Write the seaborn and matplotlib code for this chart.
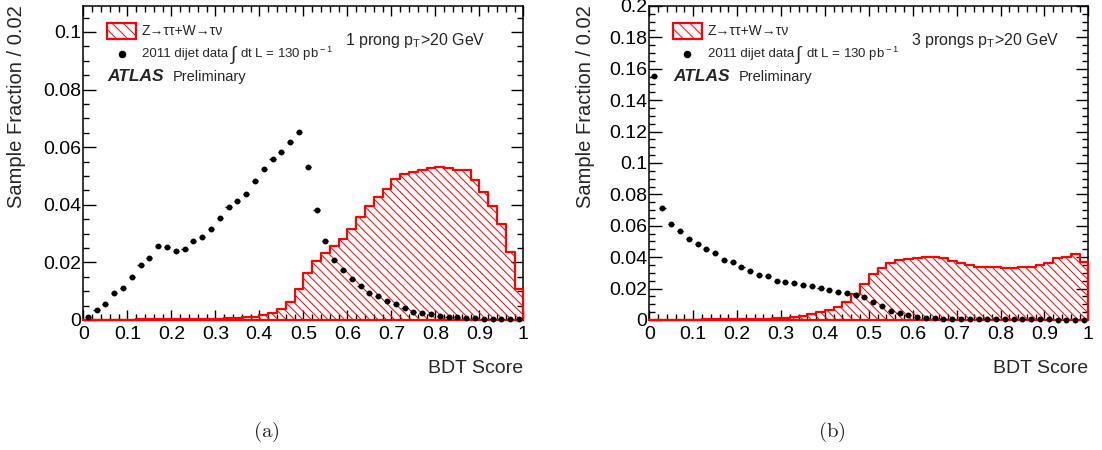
import numpy as np
import pandas as pd
import matplotlib
matplotlib.use("Agg")
import matplotlib.pyplot as plt
from matplotlib.ticker import MultipleLocator, FuncFormatter
from matplotlib.patches import Rectangle
import seaborn as sns

# ---------------- data ----------------
bin_edges = [round(0.02 * i, 2) for i in range(51)]
bin_centers = [round(0.02 * i + 0.01, 2) for i in range(50)]

# (a) 1 prong
sig_1p = [0.0001, 0.0001, 0.0001, 0.0001, 0.0001, 0.0001, 0.0002, 0.0002, 0.0002, 0.0002,
          0.0003, 0.0003, 0.0003, 0.0004, 0.0004, 0.0005, 0.0006, 0.0007, 0.0009, 0.0012,
          0.0017, 0.0023, 0.0037, 0.0064, 0.0106, 0.0162, 0.0205, 0.0231, 0.0257, 0.0280,
          0.0315, 0.0356, 0.0397, 0.0428, 0.0455, 0.0488, 0.0507, 0.0512, 0.0519, 0.0527,
          0.0532, 0.0527, 0.0521, 0.0519, 0.0486, 0.0446, 0.0396, 0.0333, 0.0237, 0.0106]
data_1p = [0.0012, 0.0035, 0.0054, 0.0093, 0.0110, 0.0148, 0.0190, 0.0214, 0.0257, 0.0253,
           0.0241, 0.0247, 0.0275, 0.0289, 0.0316, 0.0355, 0.0391, 0.0412, 0.0439, 0.0481,
           0.0523, 0.0558, 0.0583, 0.0619, 0.0652, 0.0530, 0.0383, 0.0275, 0.0208, 0.0174,
           0.0144, 0.0119, 0.0095, 0.0084, 0.0066, 0.0056, 0.0043, 0.0028, 0.0023, 0.0020,
           0.0014, 0.0012, 0.0009, 0.0008, 0.0006, 0.0005, 0.0003, 0.0003, 0.0002, 0.0002]

# (b) 3 prongs
sig_3p = [0.0002, 0.0002, 0.0002, 0.0003, 0.0003, 0.0003, 0.0004, 0.0004, 0.0005, 0.0005,
          0.0006, 0.0007, 0.0008, 0.0009, 0.0010, 0.0012, 0.0017, 0.0028, 0.0038, 0.0049,
          0.0064, 0.0085, 0.0117, 0.0166, 0.0227, 0.0293, 0.0333, 0.0361, 0.0382, 0.0391,
          0.0393, 0.0401, 0.0401, 0.0397, 0.0376, 0.0365, 0.0350, 0.0335, 0.0335, 0.0338,
          0.0333, 0.0329, 0.0335, 0.0340, 0.0350, 0.0365, 0.0393, 0.0399, 0.0420, 0.0367]
data_3p = [0.1554, 0.0711, 0.0609, 0.0567, 0.0518, 0.0486, 0.0452, 0.0427, 0.0384, 0.0367,
           0.0335, 0.0312, 0.0289, 0.0278, 0.0251, 0.0242, 0.0234, 0.0223, 0.0217, 0.0204,
           0.0193, 0.0180, 0.0172, 0.0161, 0.0144, 0.0113, 0.0089, 0.0059, 0.0042, 0.0030,
           0.0021, 0.0015, 0.0011, 0.0009, 0.0008, 0.0008, 0.0007, 0.0007, 0.0006, 0.0006,
           0.0005, 0.0005, 0.0005, 0.0004, 0.0004, 0.0004, 0.0003, 0.0003, 0.0003, 0.0003]

x_ticks = [0, 0.1, 0.2, 0.3, 0.4, 0.5, 0.6, 0.7, 0.8, 0.9, 1]
sig_label = "Z\u2192\u03c4\u03c4+W\u2192\u03c4\u03bd"
data_label_a = "2011 dijet data"
data_label_b = r"dt L = 130 pb$^{\rm -1}$"
panel_titles = [r"1 prong p$_{\rm T}$>20 GeV", r"3 prongs p$_{\rm T}$>20 GeV"]
captions = ["(a)", "(b)"]
y_tops = [0.109, 0.2]

# ---------------- style ----------------
sns.set_theme(style="ticks")
plt.rcParams["font.family"] = ["Liberation Sans", "DejaVu Sans"]
plt.rcParams["mathtext.fontset"] = "custom"
plt.rcParams["mathtext.rm"] = "Liberation Sans"
plt.rcParams["mathtext.it"] = "Liberation Sans:italic"
plt.rcParams["hatch.color"] = "red"
plt.rcParams["hatch.linewidth"] = 0.7

fig = plt.figure(figsize=(11.02, 4.5), dpi=100)
ax_pos = [[0.0756, 0.2889, 0.3993, 0.6978], [0.5892, 0.2889, 0.3984, 0.6978]]
ylab_x = [0.0154, 0.531]
cap_x = [0.242, 0.755]

panels = [(sig_1p, data_1p), (sig_3p, data_3p)]
for k, (sig, dat) in enumerate(panels):
    ax = fig.add_axes(ax_pos[k])
    df = pd.DataFrame({"score": bin_centers, "sig": sig, "data": dat})
    sns.histplot(data=df, x="score", weights="sig", bins=bin_edges, element="step",
                 fill=True, color="red", facecolor="none", edgecolor="red",
                 hatch="\\\\\\\\", linewidth=1.6, ax=ax, zorder=3, clip_on=False)
    ax.errorbar(df["score"], df["data"], xerr=0.007, fmt="none", ecolor="black",
                elinewidth=1.0, zorder=4)
    sns.scatterplot(data=df, x="score", y="data", color="black", s=18, linewidth=0,
                    ax=ax, zorder=5, clip_on=False)

    ax.set_xlim(0, 1)
    ax.set_ylim(0, y_tops[k])
    ax.set_xlabel("")
    ax.set_ylabel("")
    ax.set_xticks(x_ticks)
    ax.xaxis.set_minor_locator(MultipleLocator(0.02))
    ax.yaxis.set_major_locator(MultipleLocator(0.02))
    ax.yaxis.set_minor_locator(MultipleLocator(0.005))
    ax.xaxis.set_major_formatter(FuncFormatter(lambda v, p: "%g" % round(v, 3)))
    ax.yaxis.set_major_formatter(FuncFormatter(lambda v, p: "%g" % round(v, 4)))
    ax.tick_params(axis="both", which="both", direction="in", top=True, right=True,
                   labelsize=14, colors="black", width=1.0)
    ax.tick_params(axis="x", which="major", length=7.5, pad=4)
    ax.tick_params(axis="x", which="minor", length=4)
    ax.tick_params(axis="y", which="major", length=9, pad=1.5)
    ax.tick_params(axis="y", which="minor", length=4.5)
    for s in ax.spines.values():
        s.set_linewidth(1.1)
        s.set_color("black")

    # legend
    ax.add_patch(Rectangle((0.053, 0.894), 0.067, 0.053, transform=ax.transAxes,
                           facecolor="none", edgecolor="red", hatch="\\\\\\",
                           linewidth=1.6, zorder=6))
    ax.text(0.133, 0.921, sig_label, transform=ax.transAxes, fontsize=10,
            va="center", ha="left")
    ax.plot([0.087], [0.847], "o", color="black", markersize=4.4,
            transform=ax.transAxes, clip_on=False)
    ax.text(0.133, 0.847, data_label_a, transform=ax.transAxes, fontsize=9.5,
            va="center", ha="left")
    ax.text(0.333, 0.845, r"$\int$", transform=ax.transAxes, fontsize=14,
            va="center", ha="left")
    ax.text(0.357, 0.847, data_label_b, transform=ax.transAxes, fontsize=9.5,
            va="center", ha="left")
    ax.text(0.0545, 0.774, "ATLAS", transform=ax.transAxes, fontsize=12.5,
            fontweight="bold", style="italic", va="center", ha="left")
    ax.text(0.203, 0.774, "Preliminary", transform=ax.transAxes, fontsize=10.5,
            va="center", ha="left")
    ax.text(0.595, 0.89, panel_titles[k], transform=ax.transAxes, fontsize=11.5,
            va="center", ha="left")

    ax.text(1.0, -0.153, "BDT Score", transform=ax.transAxes, fontsize=14,
            ha="right", va="center")
    fig.text(ylab_x[k], 0.989, "Sample Fraction / 0.02", rotation=90, fontsize=14.5,
             ha="center", va="top")
    fig.text(cap_x[k], 0.04, r"$\mathrm{%s}$" % captions[k], math_fontfamily="cm",
             fontsize=15, ha="center", va="center")

fig.savefig("out.png", dpi=100)
